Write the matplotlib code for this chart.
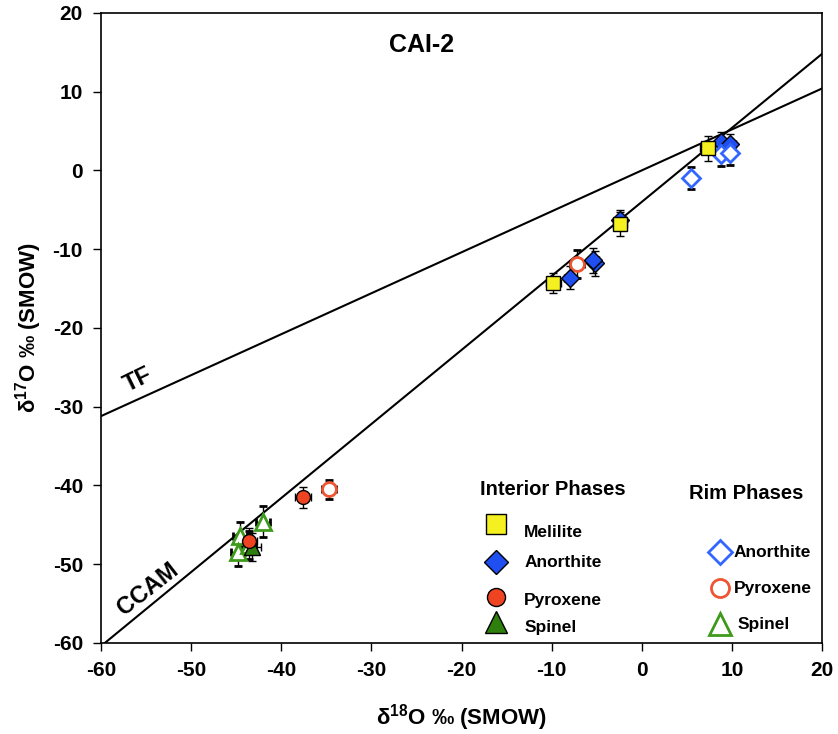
import numpy as np
import matplotlib
matplotlib.use("Agg")
import matplotlib.pyplot as plt

plt.rcParams['font.family'] = ['Liberation Sans', 'DejaVu Sans']
plt.rcParams['font.weight'] = 'bold'
plt.rcParams['axes.unicode_minus'] = False
plt.rcParams['mathtext.fontset'] = 'custom'
plt.rcParams['mathtext.bf'] = 'Liberation Sans:bold'
plt.rcParams['mathtext.rm'] = 'Liberation Sans:bold'

# interior phases (filled)
mel_x = [7.3, -2.4, -9.8]
mel_y = [2.8, -6.8, -14.3]
mel_xe = [0.8, 0.8, 0.8]
mel_ye = [1.6, 1.5, 1.3]

an_x = [8.8, 9.8, -2.4, -8.0, -5.2, -5.4]
an_y = [3.6, 3.3, -6.3, -13.6, -11.8, -11.4]
an_xe = [0.6, 0.6, 0.6, 0.6, 0.6, 0.6]
an_ye = [1.3, 1.3, 1.3, 1.5, 1.6, 1.6]

px_x = [-37.6, -43.6]
px_y = [-41.5, -47.0]
px_xe = [0.9, 0.9]
px_ye = [1.3, 1.6]

sp_x = [-43.2]
sp_y = [-47.8]
sp_xe = [0.9]
sp_ye = [1.8]

# rim phases (open)
ran_x = [5.5, 8.8, 9.8]
ran_y = [-1.0, 2.1, 2.2]
ran_xe = [0.3, 0.3, 0.3]
ran_ye = [1.4, 1.5, 1.5]

rpx_x = [-7.2, -34.7]
rpx_y = [-11.9, -40.5]
rpx_xe = [0.8, 0.8]
rpx_ye = [1.8, 1.2]

rsp_x = [-42.0, -44.6, -44.8, -43.6]
rsp_y = [-44.6, -46.4, -48.4, -47.6]
rsp_xe = [0.8, 0.8, 0.8, 0.8]
rsp_ye = [2.0, 1.8, 1.8, 1.8]

# reference lines
tf_slope, tf_int = 0.52, 0.0
ccam_slope, ccam_int = 0.94, -4.0

fig = plt.figure(figsize=(8.38, 7.34), dpi=100)
ax = fig.add_axes([0.1205, 0.124, 0.8605, 0.8585])

xl = np.array([-60, 20])
ax.plot(xl, tf_slope * xl + tf_int, color='black', lw=1.5, zorder=1)
ax.plot(xl, ccam_slope * xl + ccam_int, color='black', lw=1.5, zorder=1)

eb = dict(ecolor='black', elinewidth=1, capsize=3, capthick=1, linestyle='none', zorder=2)

ax.errorbar(rsp_x, rsp_y, xerr=rsp_xe, yerr=rsp_ye, marker='^', ms=12, mfc='white',
            mec='#3f9a1c', mew=2, **eb)
ax.errorbar(sp_x, sp_y, xerr=sp_xe, yerr=sp_ye, marker='^', ms=12, mfc='#2f7f0f',
            mec='black', mew=1, **eb)
ax.errorbar(px_x, px_y, xerr=px_xe, yerr=px_ye, marker='o', ms=10, mfc='#ee4422',
            mec='black', mew=1, **eb)
ax.errorbar(rpx_x, rpx_y, xerr=rpx_xe, yerr=rpx_ye, marker='o', ms=10, mfc='white',
            mec='#ee5533', mew=2, **eb)
ax.errorbar(an_x, an_y, xerr=an_xe, yerr=an_ye, marker='D', ms=9, mfc='#1f4ff0',
            mec='black', mew=1, **eb)
ax.errorbar(ran_x, ran_y, xerr=ran_xe, yerr=ran_ye, marker='D', ms=9, mfc='white',
            mec='#3366ff', mew=2, **eb)
ax.errorbar(mel_x, mel_y, xerr=mel_xe, yerr=mel_ye, marker='s', ms=10, mfc='#f5f020',
            mec='black', mew=1, **eb)

ax.set_xlim(-60, 20)
ax.set_ylim(-60, 20)
ax.set_xticks(np.arange(-60, 21, 10))
ax.set_yticks(np.arange(-60, 21, 10))
ax.tick_params(direction='out', length=6, width=1, labelsize=15, pad=7,
               top=False, right=False)
for lab in ax.get_xticklabels() + ax.get_yticklabels():
    lab.set_fontweight('bold')
for s in ax.spines.values():
    s.set_linewidth(1.2)

ax.set_xlabel(r'δ$^{\mathbf{18}}$O ‰ (SMOW)', fontsize=16, fontweight='bold', labelpad=16)
ax.set_ylabel(r'δ$^{\mathbf{17}}$O ‰ (SMOW)', fontsize=16, fontweight='bold', labelpad=6)

ax.text(0.445, 0.949, 'CAI-2', transform=ax.transAxes, ha='center', va='center',
        fontsize=18, fontweight='bold')
ax.text(-55.9, -26.6, 'TF', rotation=26, ha='center', va='center', fontsize=17,
        fontweight='bold')
ax.text(-54.8, -53.2, 'CCAM', rotation=38, ha='center', va='center', fontsize=17,
        fontweight='bold')

# legend block, drawn by hand
tr = ax.transAxes
ax.text(0.626, 0.244, 'Interior Phases', transform=tr, ha='center', va='center',
        fontsize=14.5, fontweight='bold')
ax.text(0.895, 0.238, 'Rim Phases', transform=tr, ha='center', va='center',
        fontsize=14.5, fontweight='bold')

interior = [('s', '#f5f020', 0.189, 'Melilite', 0.176, 14),
            ('D', '#1f4ff0', 0.129, 'Anorthite', 0.127, 12),
            ('o', '#ee4422', 0.073, 'Pyroxene', 0.068, 13),
            ('^', '#2f7f0f', 0.033, 'Spinel', 0.024, 16)]
for m, c, my, name, ty, ms in interior:
    ax.plot([0.548], [my], marker=m, ms=ms, mfc=c, mec='black', mew=1,
            transform=tr, clip_on=False)
    ax.text(0.587, ty, name, transform=tr, ha='left', va='center', fontsize=12.5,
            fontweight='bold')

rim = [('D', '#3366ff', 0.144, 'Anorthite', 0.877, 12),
       ('o', '#ee5533', 0.087, 'Pyroxene', 0.877, 13),
       ('^', '#3f9a1c', 0.030, 'Spinel', 0.883, 16)]
for m, c, my, name, tx, ms in rim:
    ax.plot([0.859], [my], marker=m, ms=ms, mfc='white', mec=c, mew=2,
            transform=tr, clip_on=False)
    ax.text(tx, my, name, transform=tr, ha='left', va='center', fontsize=12.5,
            fontweight='bold')

fig.savefig('out.png', dpi=100)
